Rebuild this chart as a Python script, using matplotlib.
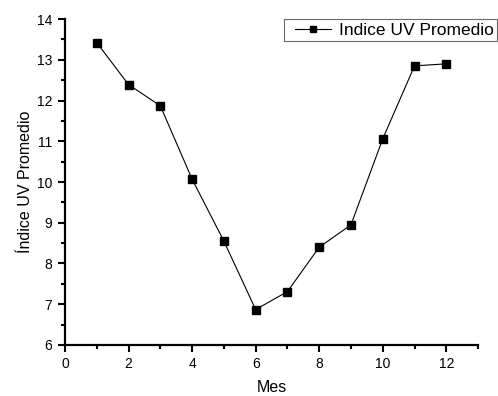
import matplotlib
matplotlib.use("Agg")
import matplotlib.pyplot as plt
from matplotlib.ticker import MultipleLocator
from matplotlib.legend_handler import HandlerLine2D

# monthly mean UV index
mes = [1, 2, 3, 4, 5, 6, 7, 8, 9, 10, 11, 12]
uv = [13.42, 12.39, 11.87, 10.07, 8.55, 6.87, 7.31, 8.40, 8.95, 11.06, 12.85, 12.90]

plt.rcParams['font.family'] = ['Liberation Sans', 'DejaVu Sans']

fig = plt.figure(figsize=(4.98, 3.96), dpi=100)
ax = fig.add_axes([0.1305, 0.1288, 0.8295, 0.8232])

line, = ax.plot(mes, uv, color='black', lw=0.8, marker='s', markersize=6,
                label='Indice UV Promedio')

ax.set_xlim(0, 13)
ax.set_ylim(6, 14)
ax.xaxis.set_major_locator(MultipleLocator(2))
ax.xaxis.set_minor_locator(MultipleLocator(1))
ax.yaxis.set_major_locator(MultipleLocator(1))
ax.yaxis.set_minor_locator(MultipleLocator(0.5))

for s in ['top', 'right']:
    ax.spines[s].set_visible(False)
for s in ['left', 'bottom']:
    ax.spines[s].set_linewidth(1.6)

ax.tick_params(which='major', direction='out', length=5, width=1.5,
               labelsize=10, pad=4)
ax.tick_params(which='minor', direction='out', length=3, width=1.5)

ax.set_xlabel('Mes', fontsize=11.5, labelpad=6)
ax.set_ylabel('Índice UV Promedio', fontsize=11.5, labelpad=3)

leg = fig.legend(loc='upper left', bbox_to_anchor=(284 / 498, 1 - 19 / 396),
                 fancybox=False, frameon=True, fontsize=12.5, handlelength=2.5,
                 borderpad=0.2, handletextpad=0.45, borderaxespad=0,
                 markerscale=0.65,
                 handler_map={line: HandlerLine2D(xpad=0.45)})
leg.get_frame().set_edgecolor('#444444')
leg.get_frame().set_linewidth(0.8)

fig.savefig('out.png', dpi=100)
